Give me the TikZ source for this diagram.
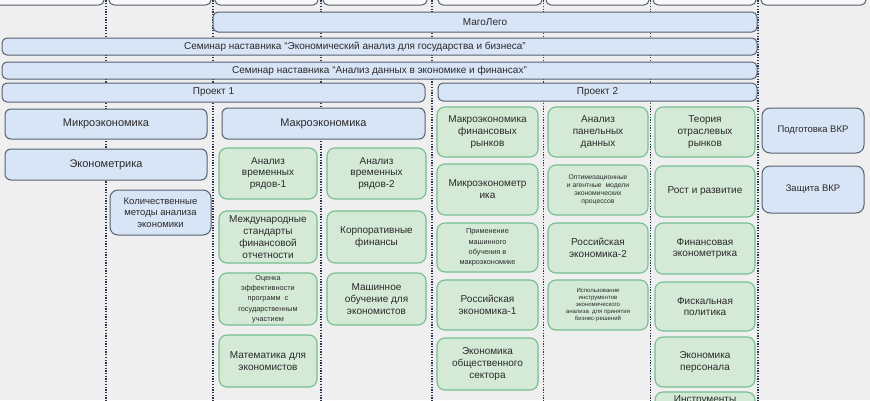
\documentclass[tikz,border=0pt]{standalone}
\usepackage{fontspec}
\setmainfont{Liberation Sans}
\definecolor{bgc}{HTML}{EFEFEF}
\definecolor{bf}{HTML}{D8E5F7}
\definecolor{bb}{HTML}{56606F}
\definecolor{gf}{HTML}{D4EAD7}
\definecolor{gb}{HTML}{74BE90}
\definecolor{tf}{HTML}{F8F8F8}
\definecolor{dc}{HTML}{2C3652}
\definecolor{tc}{HTML}{2A2A2A}
\newcommand{\bx}[7]{%
  \pgfmathsetmacro{\bxcx}{(#3+#5)/2}%
  \pgfmathsetmacro{\bxcy}{(#4+#6)/2}%
  \pgfmathsetmacro{\bxw}{#5-#3}%
  \pgfmathsetmacro{\bxh}{#6-#4}%
  \node[#2, minimum width=\bxw pt, minimum height=\bxh pt] (#1) at (\bxcx,\bxcy) {#7};}
\tikzset{
  base/.style={inner sep=0pt, outer sep=0pt, align=center, text=tc},
  topbox/.style={base, draw=bb, fill=tf, rounded corners=5pt, line width=1pt},
  wide/.style={base, draw=bb, fill=bf, rounded corners=5pt, line width=1pt, font=\fontsize{10}{12}\selectfont},
  bigb/.style={base, draw=bb, fill=bf, rounded corners=6pt, line width=1pt, font=\fontsize{11}{13}\selectfont},
  smallb/.style={base, draw=bb, fill=bf, rounded corners=8pt, line width=1pt, font=\fontsize{9.5}{11.3}\selectfont},
  gbox/.style={base, draw=gb, fill=gf, rounded corners=8pt, line width=1.1pt, font=\fontsize{10}{11.8}\selectfont},
  gsmall/.style={gbox, font=\fontsize{7.3}{10.3}\selectfont},
  gtiny/.style={gbox, font=\fontsize{6.8}{8.2}\selectfont},
  gmicro/.style={gbox, font=\fontsize{6}{7.1}\selectfont},
  vdot/.style={draw=dc, line width=1.5pt, dash pattern=on 1.3pt off 1.4pt},
  lbl/.style={inner sep=0pt, text=tc, font=\fontsize{10}{12}\selectfont}
}
\begin{document}
\begin{tikzpicture}[x=1pt,y=-1pt]
\useasboundingbox (0,0) rectangle (870,400);
\clip (0,0) rectangle (870,400);
\fill[bgc] (0,0) rectangle (870,400);
% vertical dotted lines
\foreach \xx in {106,213,321,432,543.5,650.5,758}
  \draw[vdot] (\xx,-5) -- (\xx,405);
% top row (cut off)
\bx{t1}{topbox}{-10}{-20}{104}{5}{}
\bx{t2}{topbox}{109}{-20}{211}{5}{}
\bx{t3}{topbox}{215}{-20}{318}{5}{}
\bx{t4}{topbox}{323}{-20}{427}{5}{}
\bx{t5}{topbox}{438}{-20}{542}{5}{}
\bx{t6}{topbox}{546}{-20}{649}{5}{}
\bx{t7}{topbox}{653}{-20}{756}{5}{}
\bx{t8}{topbox}{761}{-20}{866}{5}{}
% wide rows
\bx{mago}{wide}{213}{12}{757}{32}{МагоЛего}
\bx{sem1}{wide}{2}{38}{757}{55}{\hspace*{-49pt}Семинар наставника “Экономический анализ для государства и бизнеса”}
\bx{sem2}{wide}{2}{62}{757}{79}{Семинар наставника “Анализ данных в экономике и финансах”}
\bx{p1}{wide}{2}{83}{425}{102}{Проект 1}
\bx{p2}{wide}{438}{83}{757}{101}{Проект 2}
% left blue
\bx{micro}{bigb}{5}{109}{207}{139}{Микроэкономика}
\bx{ecmt}{bigb}{5}{149}{207}{180}{Эконометрика}
\bx{kol}{smallb}{110}{190}{211}{235}{Количественные\\методы анализа\\экономики}
\bx{macro}{bigb}{222}{108}{425}{139}{Макроэкономика}
% project 1 green
\bx{g11}{gbox}{219}{148}{317}{199}{Анализ\\временных\\рядов-1}
\bx{g12}{gbox}{327}{148}{426}{199}{Анализ\\временных\\рядов-2}
\bx{g21}{gbox}{219}{211}{317}{263}{Международные\\стандарты\\финансовой\\отчетности}
\bx{g22}{gbox}{327}{211}{426}{263}{Корпоративные\\финансы}
\bx{g31}{gsmall}{219}{273}{317}{325}{Оценка\\эффективности\\программ\ \ с\\государственным\\участием}
\bx{g32}{gbox}{327}{273}{426}{325}{Машинное\\обучение для\\экономистов}
\bx{g41}{gbox}{219}{335}{317}{387}{Математика для\\экономистов}
% project 2 column 1
\bx{a1}{gbox}{437}{107}{538}{157}{Макроэкономика\\финансовых\\рынков}
\bx{a2}{gbox}{437}{164}{538}{215}{Микроэконометр\\ика}
\bx{a3}{gsmall}{437}{223}{538}{272}{Применение\\машинного\\обучения в\\макроэкономике}
\bx{a4}{gbox}{437}{280}{538}{330}{Российская\\экономика-1}
\bx{a5}{gbox}{437}{338}{538}{390}{Экономика\\общественного\\сектора}
% column 2
\bx{b1}{gbox}{548}{107}{648}{157}{Анализ\\панельных\\данных}
\bx{b2}{gtiny}{548}{165}{648}{215}{Оптимизационные\\и агентные\ \ модели\\экономических\\процессов}
\bx{b3}{gbox}{548}{223}{648}{273}{Российская\\экономика-2}
\bx{b4}{gmicro}{548}{280}{648}{330}{Использование\\инструментов\\экономического\\анализа\ \ для принятия\\бизнес-решений}
% column 3
\bx{c1}{gbox}{655}{107}{755}{157}{Теория\\отраслевых\\рынков}
\bx{c2}{gbox}{655}{166}{755}{217}{Рост и развитие}
\bx{c3}{gbox}{655}{223}{755}{274}{Финансовая\\эконометрика}
\bx{c4}{gbox}{655}{282}{755}{331}{Фискальная\\политика}
\bx{c5}{gbox}{655}{337}{755}{387}{Экономика\\персонала}
\bx{c6}{gbox}{655}{392}{755}{445}{}
\node[lbl, anchor=north] (c6t) at (705,395.5) {Инструменты};
% VKR
\bx{v1}{smallb}{762}{108}{864}{153}{Подготовка ВКР}
\bx{v2}{smallb}{762}{166}{864}{213}{Защита ВКР}
\end{tikzpicture}
\end{document}
